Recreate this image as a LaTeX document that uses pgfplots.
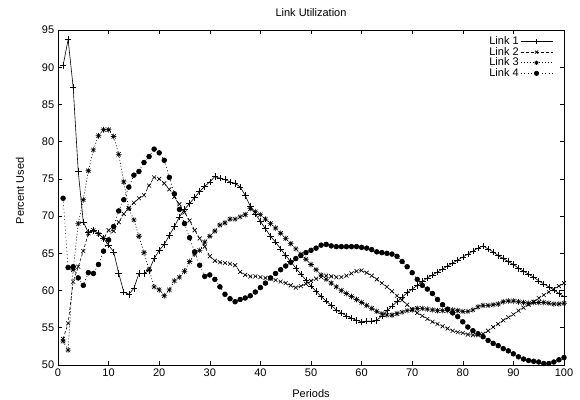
\documentclass[border=0pt]{standalone}
\usepackage{fontspec}
\setmainfont{Liberation Sans}
\usepackage{pgfplots}
\usepackage{pgfplotstable}
\pgfplotsset{compat=1.18}

% gnuplot point type 3: a plus and a cross on top of each other
\pgfdeclareplotmark{plusx}{%
  \pgfpathmoveto{\pgfqpoint{-\pgfplotmarksize}{0pt}}%
  \pgfpathlineto{\pgfqpoint{\pgfplotmarksize}{0pt}}%
  \pgfpathmoveto{\pgfqpoint{0pt}{-\pgfplotmarksize}}%
  \pgfpathlineto{\pgfqpoint{0pt}{\pgfplotmarksize}}%
  \pgfpathmoveto{\pgfqpoint{-.75\pgfplotmarksize}{-.75\pgfplotmarksize}}%
  \pgfpathlineto{\pgfqpoint{.75\pgfplotmarksize}{.75\pgfplotmarksize}}%
  \pgfpathmoveto{\pgfqpoint{-.75\pgfplotmarksize}{.75\pgfplotmarksize}}%
  \pgfpathlineto{\pgfqpoint{.75\pgfplotmarksize}{-.75\pgfplotmarksize}}%
  \pgfusepathqstroke}

% period, link 1..4 (percent used)
\pgfplotstableread{
x   l1   l2   l3   l4
1   90.2 53.5 53.2 72.4
2   93.7 55.6 52.0 63.1
3   87.3 61.2 62.8 63.2
4   76.0 63.2 69.0 61.7
5   69.2 65.3 72.2 60.7
6   67.8 67.7 76.1 62.4
7   68.1 68.1 78.9 62.3
8   67.7 67.6 80.8 63.5
9   67.0 67.0 81.6 65.3
10  66.1 68.1 81.6 66.8
11  65.2 68.0 80.7 68.6
12  62.3 69.2 78.3 70.7
13  59.8 70.3 74.6 72.2
14  59.5 71.1 71.0 73.9
15  60.3 71.8 69.5 75.5
16  62.3 72.4 67.3 76.0
17  62.3 72.8 65.1 77.2
18  62.7 74.1 62.8 78.0
19  64.3 75.2 60.5 79.0
20  65.4 75.0 60.1 78.5
21  66.2 74.4 59.3 77.5
22  67.4 73.6 60.1 75.2
23  68.6 72.6 61.3 73.0
24  69.9 71.6 61.8 70.9
25  70.9 70.5 62.6 69.0
26  71.7 69.4 63.9 67.1
27  72.5 68.1 64.9 65.2
28  73.3 67.0 65.4 63.4
29  74.0 65.9 66.5 61.9
30  74.6 64.6 67.3 62.1
31  75.3 64.0 68.0 61.5
32  75.1 63.8 68.8 60.5
33  74.9 63.7 69.1 59.5
34  74.6 63.6 69.6 58.9
35  74.4 63.4 69.6 58.5
36  73.9 62.5 69.9 58.8
37  72.8 62.1 70.2 59.0
38  71.3 61.9 71.0 59.3
39  70.3 61.9 70.6 59.8
40  69.3 61.8 70.2 60.4
41  68.3 61.7 69.6 61.0
42  67.3 61.6 69.0 61.7
43  66.5 61.4 68.4 62.3
44  65.6 61.2 67.7 62.8
45  64.7 61.0 67.0 63.3
46  63.9 60.7 66.3 63.8
47  63.0 60.4 65.6 64.3
48  62.2 60.6 64.9 64.7
49  61.4 60.9 64.2 65.1
50  60.6 61.3 63.5 65.4
51  59.9 61.6 62.8 65.7
52  59.2 61.8 62.1 66.1
53  58.6 62.0 61.5 66.2
54  58.0 61.9 61.0 66.0
55  57.4 61.8 60.5 65.9
56  57.0 61.8 60.0 65.9
57  56.6 62.0 59.6 65.9
58  56.3 62.3 59.2 65.9
59  56.0 62.6 58.8 65.9
60  55.8 62.7 58.4 65.8
61  55.9 62.4 58.0 65.7
62  55.9 62.0 57.6 65.5
63  56.0 61.5 57.2 65.2
64  56.6 61.0 56.9 65.1
65  57.3 60.5 56.7 65.0
66  57.9 59.9 56.7 64.9
67  58.5 59.3 56.9 64.6
68  59.1 58.7 57.1 63.9
69  59.7 58.1 57.3 63.2
70  60.2 57.5 57.4 62.4
71  60.7 57.0 57.6 61.5
72  61.2 56.6 57.6 60.7
73  61.7 56.2 57.5 60.2
74  62.1 55.8 57.4 59.6
75  62.5 55.5 57.3 58.8
76  62.9 55.2 57.3 58.1
77  63.3 54.9 57.3 57.5
78  63.7 54.6 57.4 57.0
79  64.1 54.4 57.3 56.5
80  64.5 54.3 57.2 55.8
81  64.9 54.1 57.2 55.1
82  65.3 54.0 57.4 54.6
83  65.7 54.0 57.8 54.2
84  66.0 54.2 58.0 53.8
85  65.6 54.6 58.0 53.3
86  65.2 55.1 58.1 52.9
87  64.7 55.5 58.2 52.6
88  64.3 56.0 58.5 52.2
89  63.9 56.4 58.6 51.9
90  63.5 56.8 58.6 51.5
91  63.0 57.3 58.5 51.1
92  62.6 57.7 58.4 50.8
93  62.2 58.1 58.3 50.6
94  61.8 58.5 58.4 50.5
95  61.3 59.0 58.4 50.4
96  60.9 59.4 58.4 50.2
97  60.5 59.8 58.3 50.2
98  60.1 60.2 58.2 50.4
99  59.6 60.6 58.2 50.7
100 59.2 61.0 58.3 51.0
}\links

\begin{document}
\fontsize{11bp}{13bp}\selectfont
\begin{tikzpicture}
\begin{axis}[
  scale only axis,
  width=506bp, height=335bp,
  xmin=0, xmax=100, ymin=50, ymax=95,
  xtick={0,10,...,100}, ytick={50,55,...,95},
  tick pos=both, tick align=inside,
  major tick length=4bp,
  axis line style={line width=0.8bp},
  every tick/.style={black, line width=0.6bp},
  /pgf/number format/assume math mode=true,
  title={Link Utilization},
  title style={at={(axis description cs:0.5,1.033)}, anchor=center},
  xlabel={Periods},
  xlabel style={at={(axis description cs:0.5,-0.084)}, anchor=center},
  ylabel={Percent Used},
  ylabel style={at={(axis description cs:-0.075,0.52)}, anchor=center},
  legend plot pos=right,
  legend cell align=right,
  legend style={at={(1,1)}, anchor=north east, xshift=-8bp, yshift=-3bp,
    draw=none, fill=none, row sep=-2bp,
    nodes={inner sep=1.5bp}},
  legend image code/.code={\draw[mark repeat=2,mark phase=2,mark size=2.2bp]
    plot coordinates {(0bp,0bp) (16bp,0bp) (32bp,0bp)};},
  every axis plot/.append style={black, line width=0.6bp},
]
\addplot[mark=+, mark size=3.3bp] table[x=x, y=l1] {\links};
\addplot[dash pattern=on 3bp off 2bp, mark=x, mark size=2.8bp,
  mark options={solid}] table[x=x, y=l2] {\links};
\addplot[dash pattern=on 1bp off 2bp, mark=plusx, mark size=2.8bp,
  mark options={solid}] table[x=x, y=l3] {\links};
\addplot[dash pattern=on 1bp off 2.5bp, mark=*, mark size=2.4bp,
  mark options={solid}] table[x=x, y=l4] {\links};
\legend{Link 1, Link 2, Link 3, Link 4}
\end{axis}
\pgfresetboundingbox
\path (-58bp,-35bp) rectangle (522bp,365bp);
\end{tikzpicture}
\end{document}
